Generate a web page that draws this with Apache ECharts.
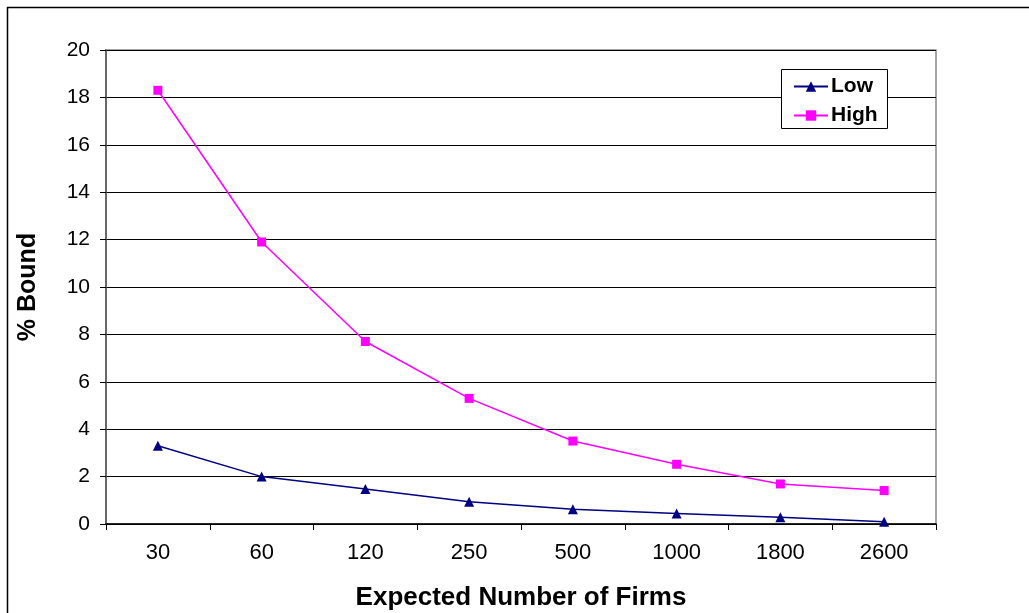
<!DOCTYPE html>
<html><head><meta charset="utf-8">
<script src="https://cdn.jsdelivr.net/npm/echarts@6/dist/echarts.min.js"></script>
<style>html,body{margin:0;padding:0;background:#fff}#c{width:1029px;height:613px}</style>
</head><body><div id="c"></div>
<script>
const categories = ['30','60','120','250','500','1000','1800','2600'];
const lowValues = [3.3, 2.0, 1.48, 0.94, 0.62, 0.44, 0.28, 0.1];
const highValues = [18.3, 11.9, 7.7, 5.3, 3.5, 2.52, 1.69, 1.41];
const yTicks = [0, 20, 2];

const chart = echarts.init(document.getElementById('c'));
const font = '"Liberation Sans", Arial, sans-serif';
chart.setOption({
  animation: false,
  textStyle: { fontFamily: font },
  graphic: [
    { type: 'rect', shape: { x: 7.5, y: 7.5, width: 1040, height: 640 }, style: { fill: 'none', stroke: '#000', lineWidth: 1.5 }, silent: true },
    { type: 'rect', shape: { x: 781.5, y: 69.5, width: 106, height: 59 }, style: { fill: '#fff', stroke: '#000', lineWidth: 1 }, z: 5 }
  ],
  grid: { left: 106, top: 50, right: 93, bottom: 89, show: true, borderColor: '#888', borderWidth: 1.5, outerBoundsMode: 'none', containLabel: false },
  legend: {
    orient: 'vertical', left: 788, top: 71, itemGap: 8, itemWidth: 34, itemHeight: 13, z: 10,
    textStyle: { fontFamily: font, fontSize: 21, fontWeight: 'bold', color: '#000', padding: [0, 0, 0, -2] },
    data: ['Low', 'High']
  },
  xAxis: {
    type: 'category', data: categories, boundaryGap: true,
    name: 'Expected Number of Firms', nameLocation: 'middle', nameGap: 61,
    nameTextStyle: { fontFamily: font, fontSize: 26, fontWeight: 'bold', color: '#000' },
    axisLine: { lineStyle: { color: '#000', width: 1.5 } },
    axisTick: { show: true, alignWithLabel: false, length: 6, lineStyle: { color: '#000' } },
    axisLabel: { fontFamily: font, fontSize: 22, color: '#000', margin: 18 }
  },
  yAxis: {
    type: 'value', min: yTicks[0], max: yTicks[1], interval: yTicks[2],
    name: '% Bound', nameLocation: 'middle', nameGap: 65, nameRotate: 90,
    nameTextStyle: { fontFamily: font, fontSize: 25, fontWeight: 'bold', color: '#000' },
    axisLine: { show: true, lineStyle: { color: '#555', width: 1.5 } },
    axisTick: { show: true, length: 6, lineStyle: { color: '#000' } },
    axisLabel: { fontFamily: font, fontSize: 21, color: '#000', margin: 16 },
    splitLine: { show: true, lineStyle: { color: '#000', width: 1.2 } }
  },
  series: [
    { name: 'Low', type: 'line', data: lowValues, symbol: 'triangle', symbolSize: 10,
      itemStyle: { color: '#000080' }, lineStyle: { color: '#000080', width: 1.5 } },
    { name: 'High', type: 'line', data: highValues, symbol: 'rect', symbolSize: 9,
      itemStyle: { color: '#ff00ff' }, lineStyle: { color: '#ff00ff', width: 1.5 } }
  ]
});
</script></body></html>
